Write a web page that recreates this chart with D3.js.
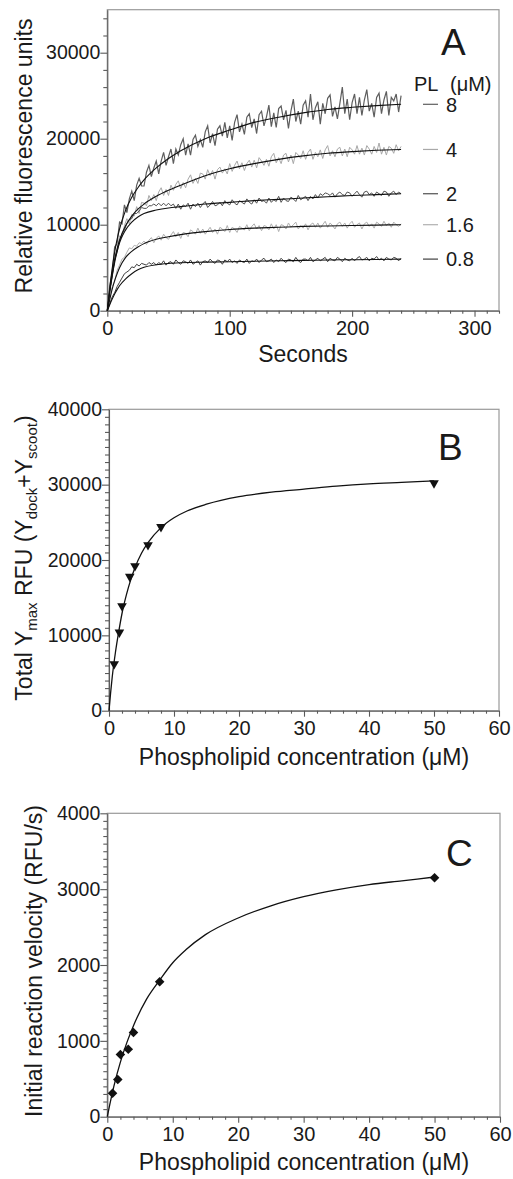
<!DOCTYPE html>
<html lang="en">
<head>
<meta charset="utf-8">
<title>Phospholipid binding kinetics</title>
<script src="https://d3js.org/d3.v7.min.js"></script>
<style>
  body { margin: 0; background: #fff; }
  svg text { font-family: "Liberation Sans", Arial, sans-serif; fill: #1a1a1a; }
</style>
</head>
<body>
<script>

// ---------- panel A : fluorescence traces ----------
// concentrations in the legend (uM), top to bottom
var plConc = ["8", "4", "2", "1.6", "0.8"];
var traceColours = ["#5e5e5e", "#a8a8a8", "#505050", "#b0b0b0", "#404040"];

// raw traces, one reading every 2 s from 0 to 240 s (RFU)
var trace8 = [0,2900,4500,7400,7800,10300,10100,12300,11400,13000,
  13900,12800,14600,15400,14500,14500,16100,16900,15600,16600,
  17400,15900,17400,18400,16900,17900,18800,17100,18800,18100,
  19300,20000,18100,19400,18100,19900,20400,19100,19900,19000,
  20800,21500,19500,20600,19200,21100,21500,20300,21900,20100,
  21500,19800,21900,22800,20800,21700,20500,22500,22900,21300,
  22300,20600,22800,23200,21500,22500,23900,21400,23000,21300,
  23500,23800,22200,23300,21200,23200,24600,22000,23200,21700,
  23900,24400,22500,25200,22200,23600,24300,21700,24100,22900,
  24700,25100,22600,23700,22300,24100,26000,22900,24600,22200,
  24200,25200,22900,24800,22700,24500,25700,23200,24100,22500,
  24800,25300,22900,24500,25500,22700,24800,24400,25200,23100,
  25000];
var trace4 = [0,2500,4000,6300,7000,8700,8500,9900,10700,10100,
  11200,11000,12100,11300,12600,12500,12200,13400,12800,13500,
  12800,13800,14300,13400,14100,13400,14600,14000,14700,15100,
  14200,14900,14300,15300,15800,14800,15400,14800,16000,15900,
  15300,16400,15700,16300,15300,16400,16700,16000,16500,15900,
  17100,16200,16900,17400,16500,17200,16300,17100,17500,16700,
  17500,16600,17800,17400,16900,17600,16800,17900,18300,17200,
  17800,17100,18100,18300,17300,18100,17100,18400,18100,17700,
  18600,17600,18400,18800,17600,18400,17900,18700,17700,18700,
  19200,18000,18600,17900,18800,19000,18000,18800,17900,19000,
  18700,18200,19200,18200,18900,18100,19200,18800,18200,19100,
  18400,19500,18200,19000,18100,19100,18900,18300,19300,18600,
  19100];
var trace2 = [0,2300,3900,5900,6800,8100,8900,9400,10100,10600,
  10700,11300,11300,11600,12000,11900,11900,12200,12200,12400,
  12200,12500,12200,12500,12200,12500,12200,12400,11900,12400,
  11800,12300,12100,12500,11800,12400,12100,12500,12000,12400,
  12700,12000,12300,12700,12200,12300,12600,12200,12800,12500,
  12300,12900,12500,12300,12800,12600,12400,13000,12600,12400,
  12900,12500,13100,12700,12800,12500,13100,12600,12900,12700,
  13300,12600,13100,12800,12700,13200,13000,12700,13400,12900,
  13100,13300,12800,13300,13000,13500,13100,13600,13400,13700,
  13600,13400,13700,13200,13600,13800,13500,13400,13800,13700,
  13300,13600,13900,13500,13200,13800,13900,13500,13700,13300,
  13800,13600,13400,13900,13800,13300,13700,13900,13500,13800,
  13600];
var trace16 = [0,1500,2800,3400,4700,5300,6000,6200,6800,7300,
  7200,7600,7500,7900,7800,8100,7700,8200,8500,7900,
  8400,8700,8200,8900,8500,8300,8800,9200,8600,9100,
  8400,9100,9000,8600,9400,9200,8900,9600,9000,9500,
  8900,9300,9700,9100,9500,8900,9700,9500,9200,9900,
  9100,9700,9500,9100,9800,9600,9400,10000,9300,9800,
  10100,9500,9900,9300,9900,9800,9400,10100,9500,10000,
  9200,10000,9900,9500,10200,9700,10000,10300,9500,9900,
  9600,10100,9400,10000,10200,9700,10200,9600,10000,10400,
  9700,10200,9900,9500,10100,10300,9800,10200,9600,10100,
  10400,9700,10000,10200,9500,10100,10300,9800,10100,9600,
  10300,10100,9800,10400,9900,10200,9700,10300,10000,9800,
  10100];
var trace08 = [0,800,1600,2100,2800,3300,3800,4300,4500,4700,
  5100,5000,5400,5200,5500,5400,5300,5600,5400,5600,
  5300,5600,5400,5800,5300,5600,5700,5400,5900,5600,
  5400,5800,5700,5500,5900,5400,5600,5800,5300,5700,
  5800,5600,6000,5700,5500,5900,5800,5400,5900,5700,
  6000,5600,5800,5500,5900,5700,5600,6000,5500,5800,
  5700,6000,5600,5900,6100,5700,5800,6000,5600,5900,
  5700,6100,5800,5600,6000,5900,5700,6200,5800,5600,
  6000,6000,5800,6200,5700,5900,6100,5800,6000,6200,
  5700,6100,5900,5800,6200,6000,5700,6100,5900,5800,
  6100,5800,6100,6300,5900,6000,6200,5800,6100,6000,
  6300,5900,6100,5800,6200,6000,5900,6200,6100,5800,
  6100];
var traces = [trace8, trace4, trace2, trace16, trace08];

// fitted curves read at these times (s)
var fitSeconds = [0, 2, 4, 6, 8, 10, 15, 20, 25, 30, 40, 50, 60, 80, 100, 120, 140, 160, 180, 200, 220, 240];
var fit8  = [0, 2600, 4900, 6800, 8300, 9500, 11700, 13200, 14300, 15200, 16600, 17700, 18600, 20000, 21000, 21900, 22500, 23000, 23400, 23650, 23850, 24000];
var fit4  = [0, 2300, 4300, 5900, 7200, 8200, 9900, 11000, 11800, 12400, 13300, 14000, 14600, 15700, 16500, 17100, 17600, 18000, 18300, 18500, 18650, 18750];
var fit2  = [0, 2200, 4100, 5600, 6900, 7900, 9400, 10300, 10900, 11300, 11700, 11950, 12100, 12400, 12600, 12800, 12950, 13100, 13250, 13400, 13500, 13600];
var fit16 = [0, 1300, 2500, 3500, 4300, 5000, 6200, 6900, 7400, 7800, 8300, 8600, 8850, 9200, 9450, 9600, 9700, 9800, 9850, 9900, 9950, 10000];
var fit08 = [0, 700, 1350, 1950, 2450, 2900, 3700, 4300, 4750, 5050, 5350, 5500, 5580, 5650, 5700, 5750, 5800, 5850, 5900, 5930, 5960, 6000];
var fits = [fit8, fit4, fit2, fit16, fit08];

var aXTicks = [0, 100, 200, 300];
var aYTicks = [0, 10000, 20000, 30000];

// ---------- panel B : total Ymax ----------
var bConc = [0.8, 1.6, 2, 3.2, 4, 6, 8, 50];
var bYmax = [6200, 10400, 13900, 17800, 19200, 22000, 24400, 30200];
var bFitConc = [0, 0.25, 0.5, 1, 1.5, 2, 3, 4, 5, 6, 8, 10, 12, 15, 20, 25, 30, 35, 40, 45, 50];
var bFitY = [0, 2400, 4500, 7800, 10500, 12900, 16400, 19000, 20900, 22300, 24300, 25600, 26500, 27400, 28400, 29000, 29400, 29800, 30100, 30300, 30500];
var bXTicks = [0, 10, 20, 30, 40, 50, 60];
var bYTicks = [0, 10000, 20000, 30000, 40000];

// ---------- panel C : initial velocity ----------
var cConc = [0.8, 1.6, 2, 3.2, 4, 8, 50];
var cVel = [310, 490, 820, 890, 1110, 1780, 3150];
var cFitConc = [0, 0.5, 1, 2, 3, 4, 6, 8, 10, 12, 15, 20, 25, 30, 35, 40, 45, 50];
var cFitV = [0, 210, 400, 720, 980, 1200, 1550, 1800, 2030, 2200, 2400, 2620, 2780, 2900, 2990, 3060, 3110, 3160];
var cXTicks = [0, 10, 20, 30, 40, 50, 60];
var cYTicks = [0, 1000, 2000, 3000, 4000];


var W = 513, H = 1179;
var svg = d3.select("body").append("svg")
    .attr("width", W)
    .attr("height", H);

// box + major/minor ticks, axes only on left and bottom
function frame(x, y, xMajor, xMinor, yMajor, yMinor) {
    var x0 = x.range()[0], x1 = x.range()[1];
    var y0 = y.range()[0], y1 = y.range()[1];

    svg.append("rect")
        .attr("x", x0).attr("y", y1)
        .attr("width", x1 - x0).attr("height", y0 - y1)
        .attr("fill", "none").attr("stroke", "#9a9a9a").attr("stroke-width", 1.2);

    var gx = svg.append("g").attr("transform", "translate(0," + y0 + ")");
    gx.append("g").call(d3.axisBottom(x).tickValues(xMinor).tickSize(3).tickFormat(""))
        .call(function(s) { s.select(".domain").remove(); });
    gx.append("g").call(d3.axisBottom(x).tickValues(xMajor).tickSize(6).tickSizeOuter(0)
        .tickPadding(4).tickFormat(d3.format("d")));

    var gy = svg.append("g").attr("transform", "translate(" + x0 + ",0)");
    gy.append("g").call(d3.axisLeft(y).tickValues(yMinor).tickSize(4).tickFormat(""))
        .call(function(s) { s.select(".domain").remove(); });
    gy.append("g").call(d3.axisLeft(y).tickValues(yMajor).tickSize(7).tickSizeOuter(0)
        .tickPadding(0).tickFormat(d3.format("d")));

    [gx, gy].forEach(function(g) {
        g.selectAll("line, path").attr("stroke", "#5a5a5a").attr("stroke-width", 1.1);
        g.selectAll("text").attr("font-size", 20).attr("font-family", null).attr("fill", "#1a1a1a");
    });
    gy.selectAll("text").attr("font-size", 19.5);
}

function yLabel(xPos, yMid, txt) {
    return svg.append("text")
        .attr("transform", "translate(" + xPos + "," + yMid + ") rotate(-90)")
        .attr("text-anchor", "middle")
        .attr("font-size", 23)
        .style("white-space", "pre")
        .text(txt);
}

function xLabel(xMid, yPos, txt) {
    svg.append("text")
        .attr("x", xMid).attr("y", yPos)
        .attr("text-anchor", "middle")
        .attr("font-size", 23)
        .text(txt);
}

function panelLetter(xPos, yPos, txt) {
    svg.append("text").attr("x", xPos).attr("y", yPos)
        .attr("font-size", 37).text(txt);
}

// ===== A =====
var xA = d3.scaleLinear().domain([0, 320]).range([107.3, 499]);
var yA = d3.scaleLinear().domain([0, 35000]).range([310.7, 9.7]);
var seconds = d3.range(0, 241, 2);

frame(xA, yA, aXTicks, d3.range(0, 321, 10).filter(function(d) { return d % 100; }),
      aYTicks, d3.range(0, 35001, 2000).filter(function(d) { return d % 10000; }));

var traceLine = d3.line()
    .x(function(d, i) { return xA(seconds[i]); })
    .y(function(d) { return yA(d); });

traces.forEach(function(tr, k) {
    svg.append("path").datum(tr)
        .attr("d", traceLine)
        .attr("fill", "none")
        .attr("stroke", traceColours[k])
        .attr("stroke-width", k === 0 ? 1.2 : 1.0);
});

var fitLine = d3.line()
    .x(function(d, i) { return xA(fitSeconds[i]); })
    .y(function(d) { return yA(d); })
    .curve(d3.curveMonotoneX);

fits.forEach(function(f) {
    svg.append("path").datum(f)
        .attr("d", fitLine)
        .attr("fill", "none")
        .attr("stroke", "#111")
        .attr("stroke-width", 1.1);
});

// legend sits next to the end of each fitted curve
svg.append("text").attr("x", 414).attr("y", 91).attr("font-size", 20).text("PL");
svg.append("text").attr("x", 450).attr("y", 91).attr("font-size", 20).text("(\u03bcM)");
plConc.forEach(function(c, k) {
    var yy = yA(fits[k][fits[k].length - 1]);
    svg.append("line")
        .attr("x1", 423).attr("x2", 438).attr("y1", yy).attr("y2", yy)
        .attr("stroke", traceColours[k]).attr("stroke-width", 1.2);
    svg.append("text").attr("x", 446).attr("y", yy).attr("dy", "0.36em")
        .attr("font-size", 20).text(c);
});

panelLetter(441, 55, "A");
yLabel(32, 156, "Relative fluorescence units");
xLabel(303, 362, "Seconds");

// ===== B =====
var xB = d3.scaleLinear().domain([0, 60]).range([109, 499]);
var yB = d3.scaleLinear().domain([0, 40000]).range([710.7, 409.3]);

frame(xB, yB, bXTicks, d3.range(0, 61, 2).filter(function(d) { return d % 10; }),
      bYTicks, d3.range(0, 40001, 1000).filter(function(d) { return d % 10000; }));

svg.append("path").datum(bFitY)
    .attr("d", d3.line()
        .x(function(d, i) { return xB(bFitConc[i]); })
        .y(function(d) { return yB(d); })
        .curve(d3.curveMonotoneX))
    .attr("fill", "none").attr("stroke", "#111").attr("stroke-width", 1.3);

svg.selectAll(".triB").data(bYmax).enter().append("path")
    .attr("class", "triB")
    .attr("d", d3.symbol().type(d3.symbolTriangle).size(40))
    .attr("transform", function(d, i) { return "translate(" + xB(bConc[i]) + "," + yB(d) + ") rotate(180)"; })
    .attr("fill", "#111");

panelLetter(438, 460, "B");
var lb = yLabel(32, 558, "");
lb.append("tspan").text("Total Y");
lb.append("tspan").attr("font-size", 15).attr("dy", 5).text("max");
lb.append("tspan").attr("dy", -5).text(" RFU (Y");
lb.append("tspan").attr("font-size", 15).attr("dy", 5).text("dock");
lb.append("tspan").attr("dy", -5).text("+Y");
lb.append("tspan").attr("font-size", 15).attr("dy", 5).text("scoot");
lb.append("tspan").attr("dy", -5).text(")");
xLabel(304, 765, "Phospholipid concentration (\u03bcM)");

// ===== C =====
var xC = d3.scaleLinear().domain([0, 60]).range([107.3, 500]);
var yC = d3.scaleLinear().domain([0, 4000]).range([1116.7, 813.3]);

frame(xC, yC, cXTicks, d3.range(0, 61, 2).filter(function(d) { return d % 10; }),
      cYTicks, d3.range(0, 4001, 100).filter(function(d) { return d % 1000; }));

svg.append("path").datum(cFitV)
    .attr("d", d3.line()
        .x(function(d, i) { return xC(cFitConc[i]); })
        .y(function(d) { return yC(d); })
        .curve(d3.curveMonotoneX))
    .attr("fill", "none").attr("stroke", "#111").attr("stroke-width", 1.3);

svg.selectAll(".diaC").data(cVel).enter().append("path")
    .attr("class", "diaC")
    .attr("d", d3.symbol().type(d3.symbolSquare).size(46))
    .attr("transform", function(d, i) { return "translate(" + xC(cConc[i]) + "," + yC(d) + ") rotate(45)"; })
    .attr("fill", "#111");

panelLetter(446, 866, "C");
yLabel(42, 961, "Initial reaction velocity (RFU/s)");
xLabel(304, 1170, "Phospholipid concentration (\u03bcM)");

</script>
</body>
</html>
